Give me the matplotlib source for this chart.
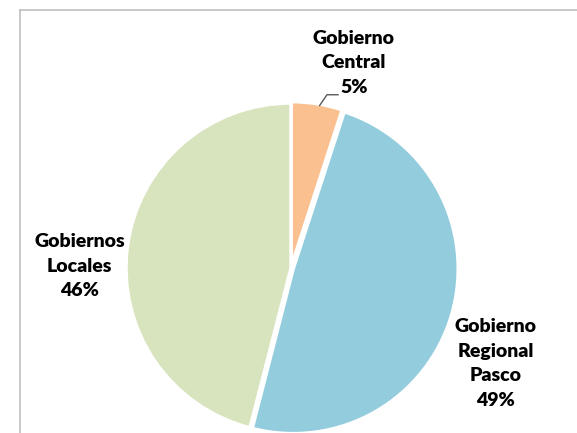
import numpy as np
import matplotlib
matplotlib.use('Agg')
from matplotlib import pyplot as plt
from matplotlib.lines import Line2D

categories = ['Gobierno\nCentral', 'Gobierno\nRegional\nPasco', 'Gobiernos\nLocales']
shares = [5, 49, 46]
colors = ['#FAC090', '#93CDDD', '#D7E4BD']

# label anchor (radius factor, angle in degrees) around the pie
label_pos = [(1.30, 73.0), (1.37, -25.0), (1.28, 179.5)]

plt.rcParams['font.family'] = ['Lato', 'DejaVu Sans']

fig = plt.figure(figsize=(5.77, 4.33), dpi=100)
ax = fig.add_axes([0, 0, 1, 1])

cx, cy, r = 291, 268, 165

wedges, _ = ax.pie(shares, colors=colors, startangle=90, counterclock=False,
                   explode=[0.008, 0.014, 0.0], radius=1.0,
                   wedgeprops=dict(edgecolor='white', linewidth=2.5))

ax.set_xlim(-cx / r, (577 - cx) / r)
ax.set_ylim((cy - 433) / r, cy / r)
ax.axis('off')

for name, val, (rf, ang) in zip(categories, shares, label_pos):
    a = np.deg2rad(ang)
    ax.text(rf * np.cos(a), rf * np.sin(a), f'{name}\n{val}%',
            ha='center', va='center', fontsize=14, fontweight='heavy',
            linespacing=1.55, color='black')

# leader line for the small slice
a = np.deg2rad(80)
ax.plot([np.cos(a) * 1.0, 0.218, 0.285], [np.sin(a) * 1.0, 1.05, 1.05],
        color='#595959', lw=1)

# chart frame (only top and left edges fall inside the picture)
fig.add_artist(Line2D([20 / 577, 1], [1 - 10 / 433, 1 - 10 / 433], color='#BFBFBF', lw=1.2))
fig.add_artist(Line2D([20 / 577, 20 / 577], [0, 1 - 10 / 433], color='#BFBFBF', lw=1.2))

fig.savefig('out.png', dpi=100)
